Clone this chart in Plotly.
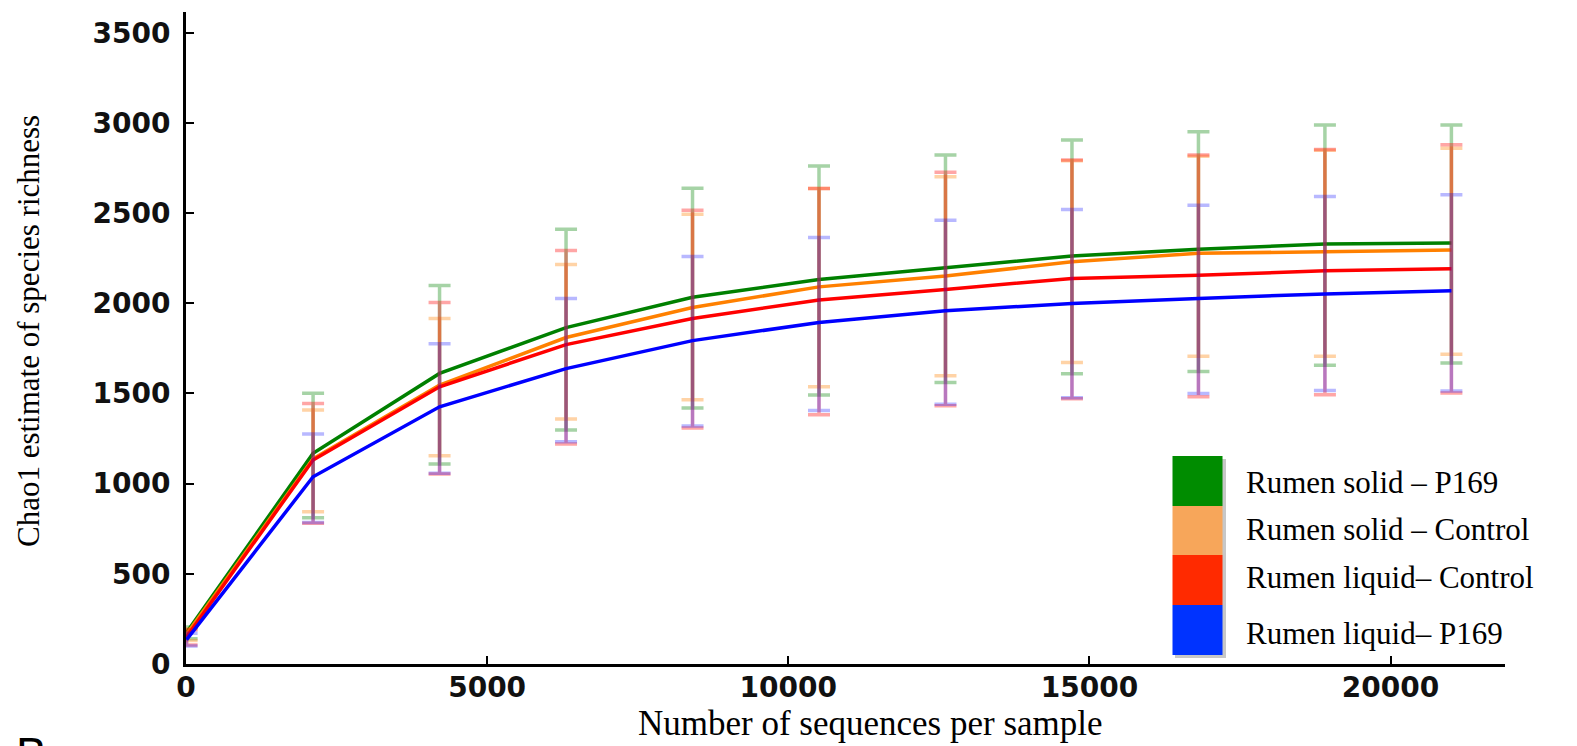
import plotly.graph_objects as go

# ---- data ----
depths = [10, 2110, 4210, 6310, 8410, 10510, 12610, 14710, 16810, 18910, 21010]

series_names = ["Rumen solid \u2013 P169", "Rumen solid \u2013 Control",
                "Rumen liquid\u2013 Control", "Rumen liquid\u2013 P169"]

solid_p169_mean = [175, 1168, 1611, 1865, 2033, 2132, 2197, 2262, 2299, 2329, 2334]
solid_p169_hi   = [205, 1501, 2099, 2410, 2638, 2761, 2822, 2905, 2951, 2988, 2988]
solid_p169_lo   = [140, 811, 1109, 1298, 1420, 1491, 1561, 1609, 1622, 1657, 1669]

solid_ctrl_mean = [165, 1138, 1547, 1810, 1977, 2091, 2151, 2230, 2277, 2285, 2295]
solid_ctrl_hi   = [195, 1408, 1915, 2215, 2493, 2637, 2701, 2790, 2815, 2849, 2859]
solid_ctrl_lo   = [130, 844, 1155, 1359, 1465, 1537, 1598, 1672, 1707, 1707, 1717]

liquid_ctrl_mean = [150, 1131, 1537, 1771, 1916, 2018, 2077, 2138, 2156, 2180, 2192]
liquid_ctrl_hi   = [190, 1445, 2004, 2293, 2516, 2637, 2726, 2794, 2822, 2853, 2879]
liquid_ctrl_lo   = [105, 780, 1053, 1220, 1309, 1382, 1432, 1471, 1482, 1493, 1503]

liquid_p169_mean = [135, 1038, 1426, 1638, 1793, 1894, 1958, 1999, 2027, 2052, 2069]
liquid_p169_hi   = [170, 1275, 1776, 2026, 2260, 2365, 2461, 2520, 2544, 2592, 2602]
liquid_p169_lo   = [100, 785, 1057, 1232, 1320, 1406, 1440, 1476, 1500, 1517, 1513]

means = [solid_p169_mean, solid_ctrl_mean, liquid_ctrl_mean, liquid_p169_mean]
highs = [solid_p169_hi, solid_ctrl_hi, liquid_ctrl_hi, liquid_p169_hi]
lows = [solid_p169_lo, solid_ctrl_lo, liquid_ctrl_lo, liquid_p169_lo]

x_ticks = [0, 5000, 10000, 15000, 20000]
x_tick_labels = ["0", "5000", "10000", "15000", "20000"]
y_ticks = [0, 500, 1000, 1500, 2000, 2500, 3000, 3500]
y_tick_labels = ["0", "500", "1000", "1500", "2000", "2500", "3000", "3500"]

# ---- styles ----
line_colors = ["#008000", "#ff8000", "#ff0000", "#0000ff"]
err_colors = ["rgba(0,128,0,0.35)", "rgba(255,128,0,0.35)",
              "rgba(255,0,0,0.35)", "rgba(0,0,255,0.28)"]
legend_colors = ["#008c00", "#f7a65a", "#ff2a00", "#0033ff"]

fig = go.Figure()
for name, m, hi, lo, lc, ec in zip(series_names, means, highs, lows, line_colors, err_colors):
    fig.add_trace(go.Scatter(
        x=depths, y=m, mode="lines", name=name,
        line=dict(color=lc, width=3.5),
        error_y=dict(type="data", symmetric=False,
                     array=[h - v for h, v in zip(hi, m)],
                     arrayminus=[v - l for v, l in zip(m, lo)],
                     color=ec, thickness=3.5, width=11),
        showlegend=False,
    ))

# plot area in pixels: x 186..1505, y 12..664
L, R, T, B = 186, 1505, 12, 664
W, H = R - L, B - T

def px(xp):
    return (xp - L) / W

def py(yp):
    return (B - yp) / H

shapes = []
annotations = []
block_edges = [456, 506, 555, 605, 655]
text_centers = [483, 529, 577, 633]
for i, (name, col) in enumerate(zip(series_names, legend_colors)):
    y0, y1 = block_edges[i], block_edges[i + 1]
    shapes.append(dict(type="rect", xref="paper", yref="paper",
                       x0=px(1175), x1=px(1226), y0=py(y1 + 3), y1=py(y0 + 3),
                       fillcolor="rgba(0,0,0,0.22)", line=dict(width=0), layer="above"))
for i, (name, col) in enumerate(zip(series_names, legend_colors)):
    y0, y1 = block_edges[i], block_edges[i + 1]
    shapes.append(dict(type="rect", xref="paper", yref="paper",
                       x0=px(1172.5), x1=px(1222.5), y0=py(y1), y1=py(y0),
                       fillcolor=col, line=dict(width=0), layer="above"))
    annotations.append(dict(text=name, xref="paper", yref="paper",
                            x=px(1244), y=py(text_centers[i]), xanchor="left", yanchor="middle",
                            showarrow=False,
                            font=dict(family="Liberation Serif", size=31, color="#000")))

annotations.append(dict(text="Number of sequences per sample", xref="paper", yref="paper",
                        x=px(870), y=py(723), xanchor="center", yanchor="middle",
                        showarrow=False,
                        font=dict(family="Liberation Serif", size=35, color="#000")))
annotations.append(dict(text="Chao1 estimate of species richness", xref="paper", yref="paper",
                        x=px(29), y=py(331), xanchor="center", yanchor="middle",
                        textangle=-90, showarrow=False,
                        font=dict(family="Liberation Serif", size=31, color="#000")))
annotations.append(dict(text="B", xref="paper", yref="paper",
                        x=px(14), y=py(726), xanchor="left", yanchor="top",
                        showarrow=False,
                        font=dict(family="Liberation Sans", size=46, color="#000")))

tick_font = dict(family="DejaVu Sans", size=28, color="#111", weight="bold")
fig.update_layout(
    width=1577, height=746,
    margin=dict(l=L, r=1577 - R, t=T, b=746 - B, pad=0),
    paper_bgcolor="white", plot_bgcolor="white",
    shapes=shapes, annotations=annotations,
    xaxis=dict(range=[0, 21900], tickvals=x_ticks, ticktext=x_tick_labels,
               ticks="inside", ticklen=8, tickwidth=2,
               tickcolor="#000", showline=True, linecolor="#000", linewidth=3,
               showgrid=False, zeroline=False, ticklabelstandoff=-4,
               tickfont=tick_font),
    yaxis=dict(range=[0, 3615], tickvals=y_ticks, ticktext=y_tick_labels,
               ticks="inside", ticklen=8, tickwidth=2,
               tickcolor="#000", showline=True, linecolor="#000", linewidth=3,
               showgrid=False, zeroline=False, ticklabelstandoff=7,
               tickfont=tick_font),
)

fig.write_html("out.html", config={"displayModeBar": False},
               post_script="document.body.style.margin='0';document.body.style.overflow='hidden';")
